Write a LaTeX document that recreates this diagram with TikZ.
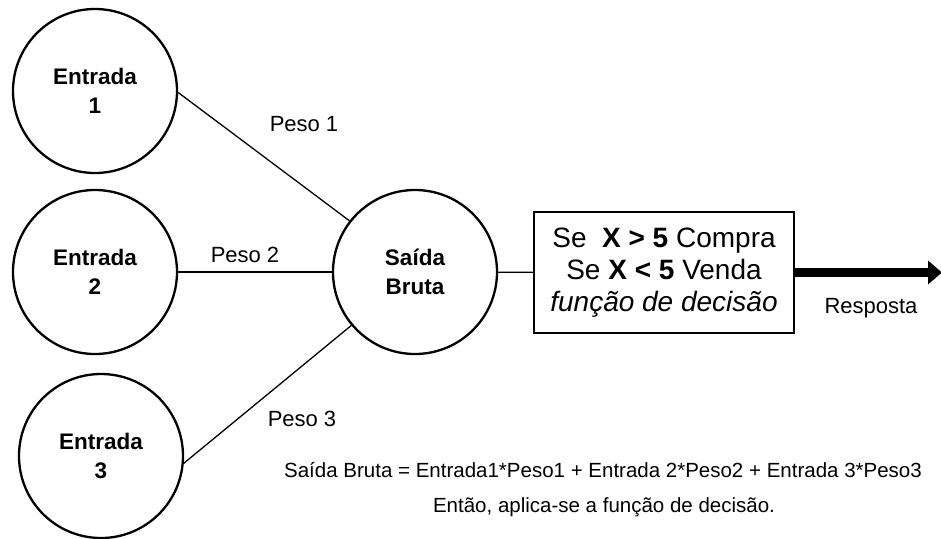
\documentclass[tikz,border=0pt]{standalone}
\usepackage{fontspec}
\setmainfont{Liberation Sans}
\usetikzlibrary{arrows.meta}
\begin{document}
\begin{tikzpicture}[x=1pt,y=-1pt,
  neuron/.style={circle,draw,line width=2.3pt,minimum size=164pt,inner sep=0pt,align=center,
    font=\fontsize{22.5}{29}\selectfont\bfseries},
  link/.style={line width=1.3pt},
  lbl/.style={font=\fontsize{22}{26}\selectfont,inner sep=0pt,anchor=base},
  note/.style={font=\fontsize{20.5}{24}\selectfont,inner sep=0pt,anchor=base},
  decbox/.style={draw,line width=2.3pt,minimum width=260pt,minimum height=121pt,align=center,
    font=\fontsize{28}{32}\selectfont},
  outarrow/.style={line width=8.5pt,-{Triangle[length=14pt,width=23pt]}}
]
\useasboundingbox (0,0) rectangle (941,538);
\node[neuron] (e1) at (95,91) {Entrada\\1};
\node[neuron] (e2) at (95,272) {Entrada\\2};
\node[neuron] (e3) at (101,456) {Entrada\\3};
\node[neuron] (s) at (415,272) {Saída\\Bruta};
\node[decbox] (d) at (664,272.5) {Se \ \textbf{X > 5} Compra\\Se \textbf{X < 5} Venda\\\textit{função de decisão}};
\coordinate (tip) at (942,272);

\draw[link] (e1.-1) -- (s.142);
\draw[link] (e2) -- (s);
\draw[link] (e3.-5) -- (s.220);
\draw[link] (s) -- (d);
\draw[outarrow] (d.east) -- (d.east -| tip);

\node[lbl] (p1) at (304,131) {Peso 1};
\node[lbl] (p2) at (245,262) {Peso 2};
\node[lbl] (p3) at (302,426) {Peso 3};
\node[lbl] (r) at (871,313) {Resposta};
\node[note] (f1) at (603,477) {Saída Bruta = Entrada1*Peso1 + Entrada 2*Peso2 + Entrada 3*Peso3};
\node[note] (f2) at (604,512) {Então, aplica-se a função de decisão.};
\end{tikzpicture}
\end{document}
